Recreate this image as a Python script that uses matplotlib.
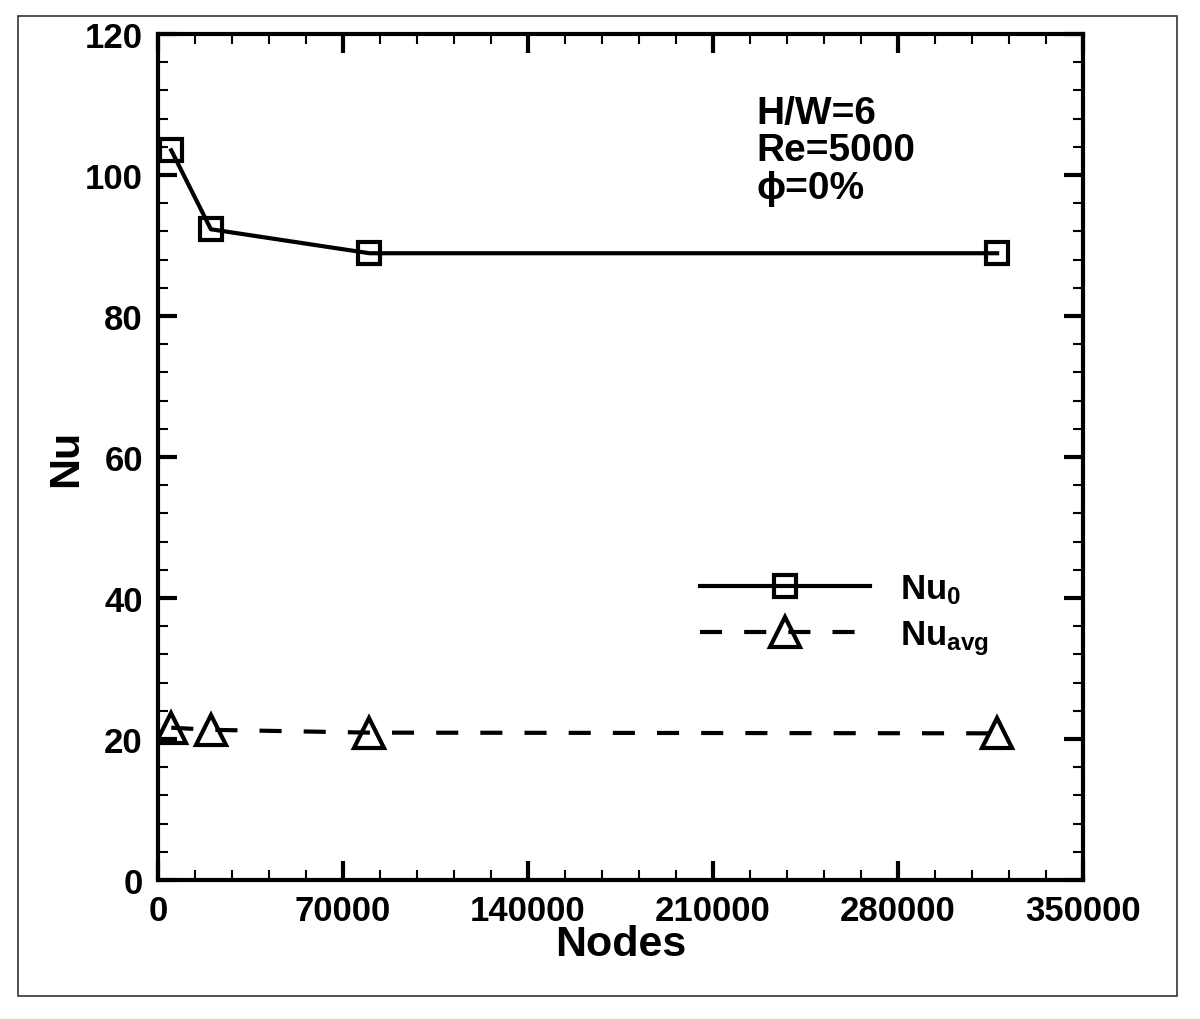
import matplotlib
matplotlib.use("Agg")
import matplotlib.pyplot as plt
from matplotlib.patches import Rectangle
from matplotlib.ticker import MultipleLocator

plt.rcParams["font.family"] = ["Liberation Sans", "DejaVu Sans"]
plt.rcParams["font.weight"] = "bold"
plt.rcParams["mathtext.fontset"] = "custom"
plt.rcParams["mathtext.rm"] = "Liberation Sans:bold"
plt.rcParams["mathtext.it"] = "Liberation Sans:bold"
plt.rcParams["mathtext.bf"] = "Liberation Sans:bold"

nodes = [5000, 20000, 80000, 317500]
nu_0 = [103.5, 92.3, 88.9, 88.9]
nu_avg = [21.6, 21.3, 20.9, 20.8]

fig = plt.figure(figsize=(12, 10.2), dpi=100)
ax = fig.add_axes([0.1317, 0.1363, 0.7708, 0.8294])

ax.plot(nodes, nu_0, color="black", lw=3, marker="s", ms=16, mew=3,
        mfc="none", mec="black", label="Nu$_0$")
ax.plot(nodes, nu_avg, color="black", lw=3, ls=(0, (5.3, 5.3)), marker="^",
        ms=21, mew=3, mfc="none", mec="black", label="Nu$_{avg}$")

ax.set_xlim(0, 350000)
ax.set_ylim(0, 120)
ax.xaxis.set_major_locator(MultipleLocator(70000))
ax.xaxis.set_minor_locator(MultipleLocator(14000))
ax.yaxis.set_major_locator(MultipleLocator(20))
ax.yaxis.set_minor_locator(MultipleLocator(4))
ax.tick_params(which="both", direction="in", top=True, right=True,
               labelsize=25)
ax.tick_params(which="major", length=14, width=3)
ax.tick_params(which="minor", length=7.5, width=1.5)
ax.tick_params(axis="y", pad=11)
ax.tick_params(axis="x", pad=10)
for sp in ax.spines.values():
    sp.set_linewidth(3)

ax.set_xlabel("Nodes", fontsize=31, fontweight="bold", labelpad=-2)
ax.set_ylabel("Nu", fontsize=31, fontweight="bold", labelpad=-1)

ax.text(0.647, 0.928, "H/W=6\nRe=5000\nϕ=0%", transform=ax.transAxes,
        fontsize=28, fontweight="bold", va="top", ha="left", linespacing=1.05)

leg = ax.legend(loc="upper left", bbox_to_anchor=(0.586, 0.364),
                frameon=False, fontsize=25, handlelength=4.9,
                handletextpad=0.85, labelspacing=0.35, borderpad=0,
                borderaxespad=0)

fig.patches.append(Rectangle((18 / 1200, 1 - 997 / 1020), 1159 / 1200,
                             980 / 1020, transform=fig.transFigure,
                             fill=False, edgecolor="#333333", lw=1.2))

fig.savefig("out.png", dpi=100)
